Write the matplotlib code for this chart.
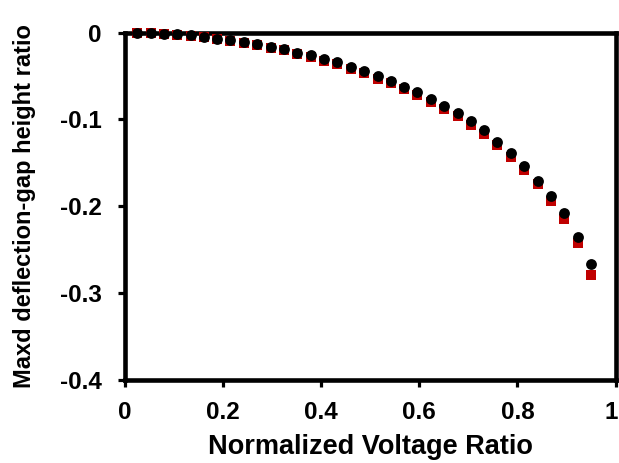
import matplotlib
matplotlib.use("Agg")
import matplotlib.pyplot as plt
import matplotlib.transforms as mtransforms
from matplotlib.ticker import FuncFormatter

# Data
voltage_ratio = [0.025, 0.052, 0.079, 0.107, 0.134, 0.161, 0.188, 0.215, 0.243,
                 0.270, 0.297, 0.324, 0.351, 0.379, 0.406, 0.433, 0.460, 0.487,
                 0.515, 0.542, 0.569, 0.596, 0.623, 0.651, 0.678, 0.705, 0.732,
                 0.759, 0.787, 0.814, 0.841, 0.868, 0.895, 0.923, 0.950]

series_black = [-0.0001, -0.0005, -0.0012, -0.0022, -0.0032, -0.0050, -0.0070,
                -0.0085, -0.0112, -0.0136, -0.0162, -0.0192, -0.0233, -0.0262,
                -0.0307, -0.0345, -0.0400, -0.0442, -0.0500, -0.0553, -0.0622,
                -0.0688, -0.0762, -0.0843, -0.0923, -0.1019, -0.1126, -0.1260,
                -0.1390, -0.1537, -0.1706, -0.1882, -0.2081, -0.2350, -0.2670]

series_red = [-0.0002, -0.0007, -0.0016, -0.0026, -0.0037, -0.0056, -0.0077,
              -0.0093, -0.0121, -0.0148, -0.0175, -0.0207, -0.0250, -0.0281,
              -0.0328, -0.0368, -0.0425, -0.0470, -0.0530, -0.0585, -0.0656,
              -0.0724, -0.0800, -0.0883, -0.0963, -0.1062, -0.1170, -0.1300,
              -0.1433, -0.1580, -0.1748, -0.1935, -0.2150, -0.2420, -0.2797]

x_ticks = [0, 0.2, 0.4, 0.6, 0.8, 1.0]
y_ticks = [0, -0.1, -0.2, -0.3, -0.4]

plt.rcParams['font.family'] = ['Liberation Sans', 'DejaVu Sans']
plt.rcParams['font.weight'] = 'bold'

fig = plt.figure(figsize=(6.19, 4.63), dpi=100)
ax = fig.add_axes([125 / 619, 1 - 380 / 463, (615.5 - 125) / 619, (380 - 32.5) / 463])

ax.plot(voltage_ratio, series_red, linestyle='none', marker='s', markersize=7.8,
        color='#C00000', markeredgewidth=0, clip_on=False, zorder=5)
ax.plot(voltage_ratio, series_black, linestyle='none', marker='o', markersize=7.8,
        color='black', markeredgewidth=0, clip_on=False, zorder=6)

ax.set_xlim(0, 1)
ax.set_ylim(-0.4, 0)
ax.set_xticks(x_ticks)
ax.set_yticks(y_ticks)

def fmt(v, pos):
    s = ('%g' % round(v, 3))
    return s.replace('\u2212', '-')

ax.xaxis.set_major_formatter(FuncFormatter(fmt))
ax.yaxis.set_major_formatter(FuncFormatter(fmt))

for sp in ax.spines.values():
    sp.set_linewidth(3.3)
    sp.set_color('black')

ax.tick_params(axis='both', direction='out', length=5, width=2.3, color='black',
               labelsize=17.5)
ax.tick_params(axis='x', pad=10)
ax.tick_params(axis='y', pad=12)

# keep the last x label inside the figure (in the reference it sits at the edge)
fig.canvas.draw()
last = ax.get_xticklabels()[-1]
last.set_horizontalalignment('right')
last.set_transform(last.get_transform() +
                   mtransforms.ScaledTranslation(2.5 / 100, 0, fig.dpi_scale_trans))

ax.set_xlabel('Normalized Voltage Ratio', fontsize=19.5, fontweight='bold', labelpad=7)
ax.set_ylabel('Maxd deflection-gap height ratio', fontsize=17, fontweight='bold')
ax.yaxis.set_label_coords(-(125 - 36) / (615.5 - 125), 0.5)

fig.savefig('out.png', dpi=100)
